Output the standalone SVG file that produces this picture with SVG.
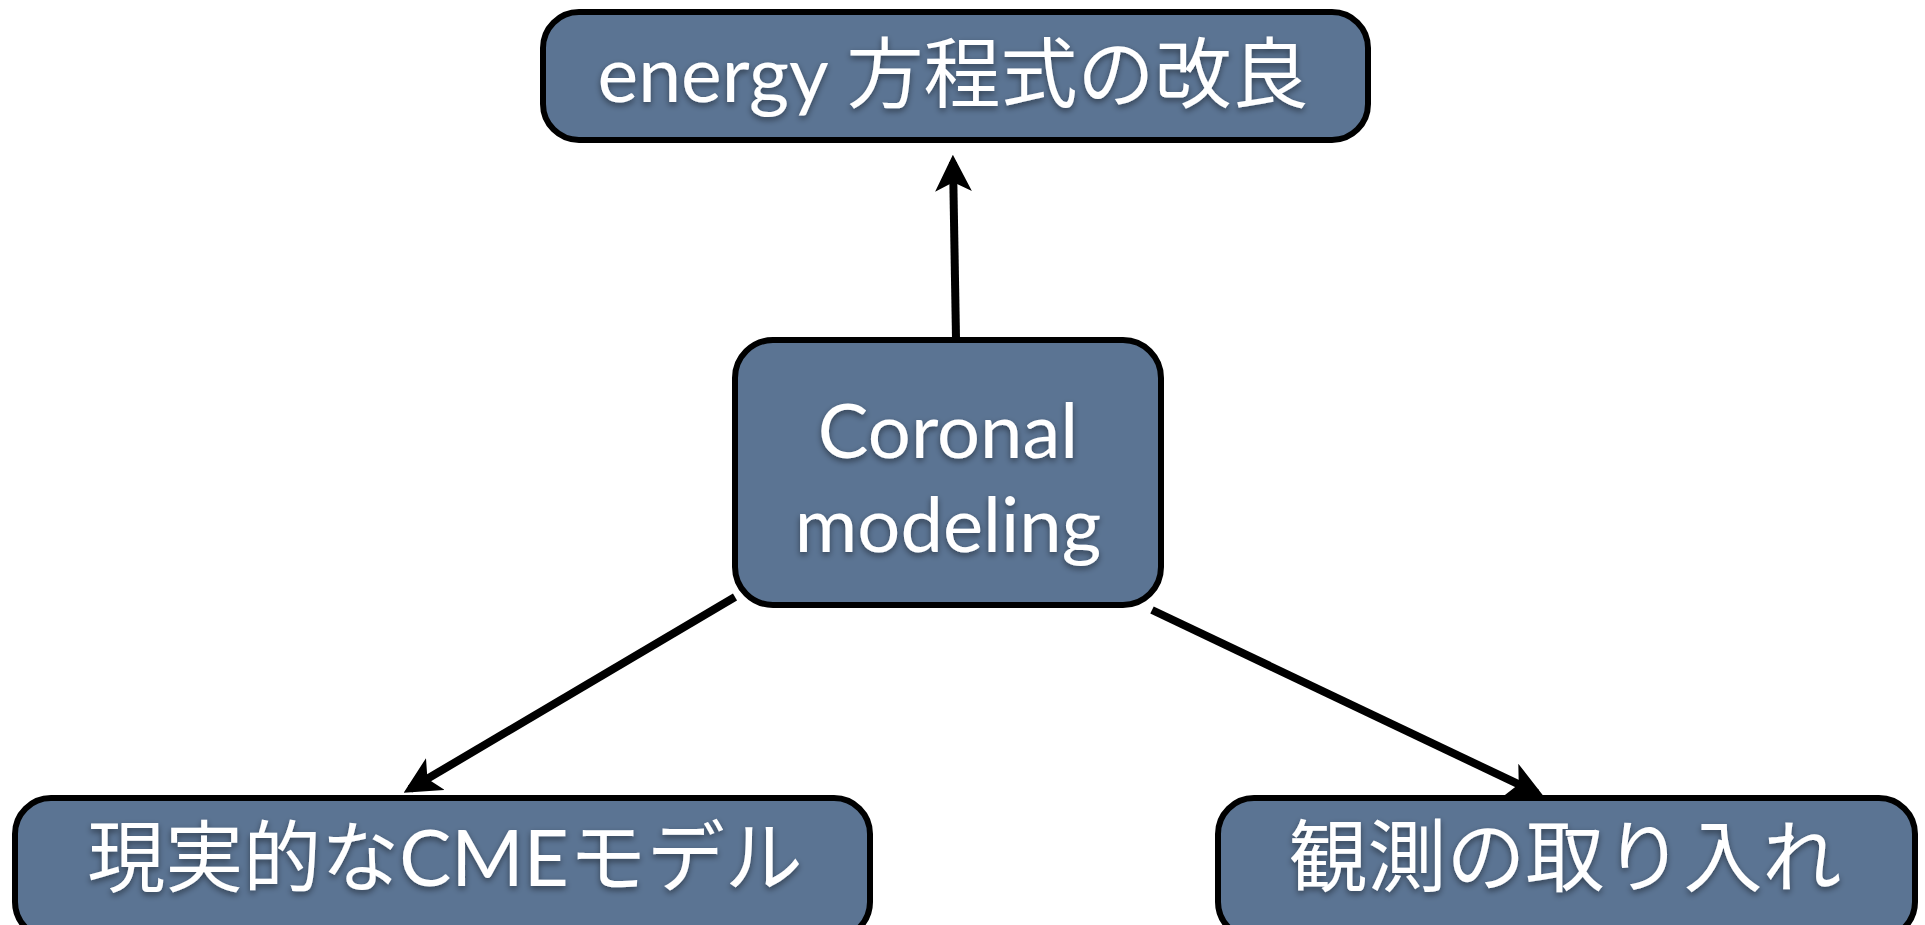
<svg xmlns="http://www.w3.org/2000/svg" width="1925" height="925" viewBox="0 0 1925 925">
<style>
.box{fill:#5b7493;stroke:#000;stroke-width:6}
.lbl{fill:#fff;font-family:Lato,"Noto Sans CJK JP",sans-serif;text-anchor:middle;filter:url(#ts)}
.conn{stroke:#000;stroke-width:8;fill:none;marker-end:url(#ah)}
</style>
<defs>
<filter id="ts" x="-10%" y="-30%" width="120%" height="160%">
<feDropShadow dx="0" dy="3" stdDeviation="3" flood-color="#000" flood-opacity="0.45"/>
</filter>
<marker id="ah" viewBox="0 0 10 10" refX="8" refY="5" markerWidth="4.6" markerHeight="4.6" orient="auto" markerUnits="strokeWidth">
<path d="M0,0 L10,5 L0,10 L2.5,5 Z" fill="#000"/>
</marker>
</defs>
<rect width="1925" height="925" fill="#fff"/>
<g id="connectors">
<line class="conn" x1="956" y1="338" x2="953" y2="162"/>
<line class="conn" x1="735" y1="597" x2="410" y2="789"/>
<line class="conn" x1="1152" y1="610" x2="1537" y2="793"/>
</g>
<g id="node-energy">
<rect class="box" x="543" y="12" width="825" height="128" rx="36"/>
<text class="lbl" x="953" y="102" font-size="77">energy 方程式の改良</text>
</g>
<g id="node-coronal">
<rect class="box" x="735" y="340" width="426" height="265" rx="38"/>
<text class="lbl" x="948" y="458" font-size="76">Coronal</text>
<text class="lbl" x="948" y="552" font-size="76">modeling</text>
</g>
<g id="node-cme">
<rect class="box" x="15" y="798" width="855" height="140" rx="36"/>
<text class="lbl" x="445" y="886" font-size="78">現実的なCMEモデル</text>
</g>
<g id="node-obs">
<rect class="box" x="1218" y="798" width="697" height="140" rx="36"/>
<text class="lbl" x="1565" y="886" font-size="79">観測の取り入れ</text>
</g>
</svg>
